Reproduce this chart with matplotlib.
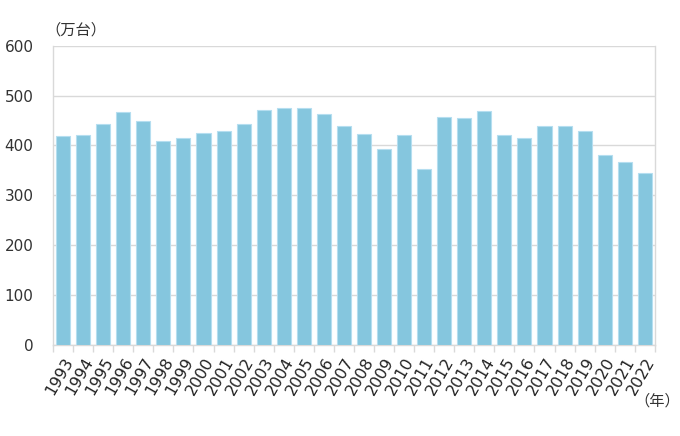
import numpy as np
import matplotlib.pyplot as plt
from matplotlib.ticker import FixedLocator

plt.rcParams['font.family'] = ['Noto Sans CJK JP', 'DejaVu Sans']

years = list(range(1993, 2023))
sales = [419, 421, 443, 467, 449, 409, 415, 426, 429, 443,
         471, 476, 475, 463, 440, 423, 393, 421, 352, 457,
         456, 470, 421, 414, 439, 439, 430, 381, 367, 344]
yticks = [0, 100, 200, 300, 400, 500, 600]

fig = plt.figure(figsize=(6.8, 4.36), dpi=100)
ax = fig.add_axes([0.078, 0.209, 0.885, 0.686])

x = np.arange(len(years))
ax.bar(x, sales, width=0.7, color='#85c6de', edgecolor='#b5def0', linewidth=0.8, zorder=3)

ax.set_xlim(-0.5, len(years) - 0.5)
ax.set_ylim(0, 600)
ax.set_yticks(yticks)
ax.set_yticklabels([str(v) for v in yticks], family='DejaVu Sans')
ax.yaxis.grid(True, color='#d9d9d9', linewidth=1.0, zorder=0)
ax.tick_params(axis='y', length=0, labelsize=11, colors='#333333', pad=14)

ax.set_xticks(x)
ax.set_xticklabels([str(y) for y in years], rotation=60, ha='right',
                   rotation_mode='anchor', fontsize=11.5, color='#222222',
                   family='DejaVu Sans')
ax.tick_params(axis='x', which='major', length=0, pad=7)
ax.xaxis.set_minor_locator(FixedLocator(np.arange(-0.5, len(years), 1.0)))
ax.tick_params(axis='x', which='minor', length=5, color='#d9d9d9', width=1)

ax.spines['top'].set_visible(False)
for side in ['left', 'right', 'bottom']:
    ax.spines[side].set_color('#d9d9d9')
    ax.spines[side].set_linewidth(1.0)

fig.text(0.066, 0.93, '（万台）', fontsize=11, color='#333333', ha='left', va='center')
fig.text(1.0, 0.08, '（年）', fontsize=11, color='#333333', ha='right', va='center')

fig.savefig('out.png', dpi=100)
